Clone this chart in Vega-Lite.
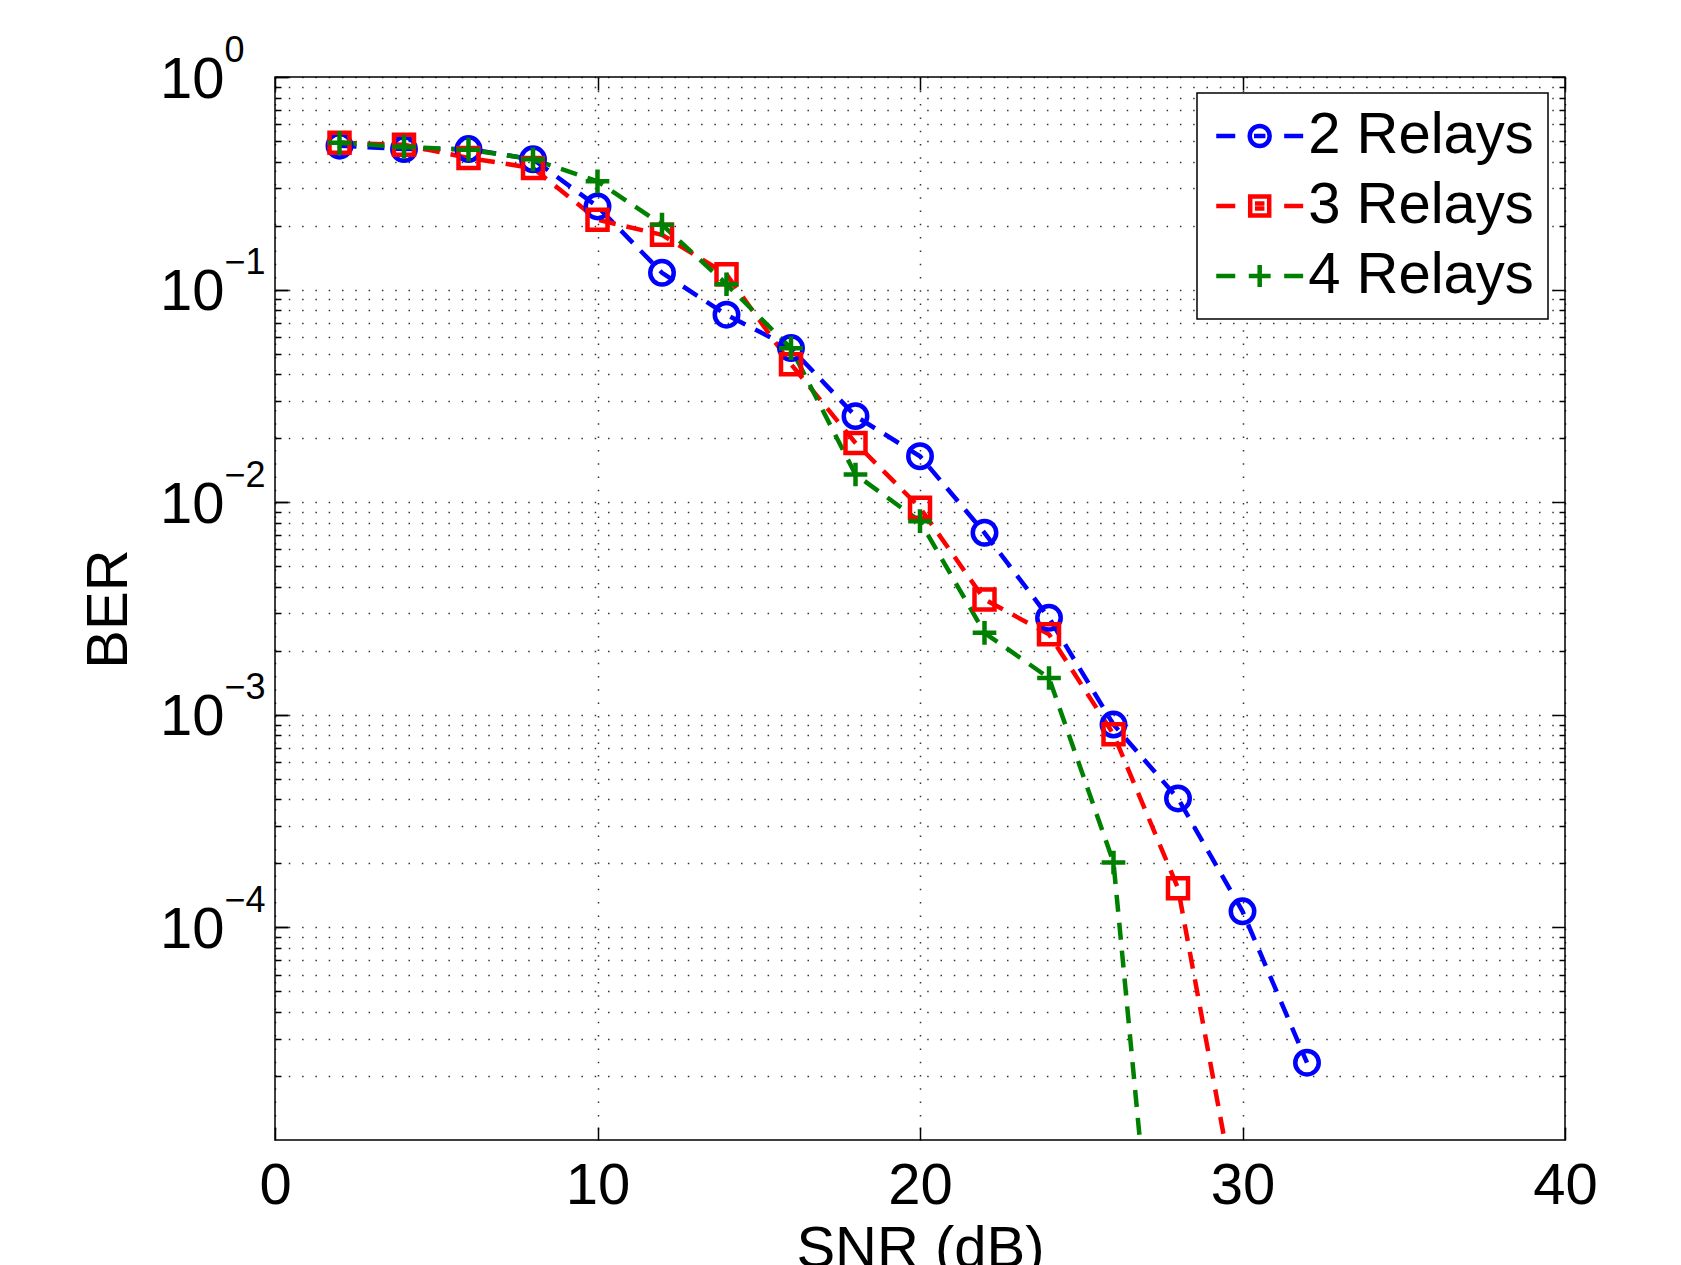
{
  "$schema": "https://vega.github.io/schema/vega-lite/v6.json",
  "width": 1290,
  "height": 1063,
  "autosize": {"type": "none"},
  "padding": {"left": 275, "top": 77, "right": 116, "bottom": 125},
  "background": "white",
  "config": {
    "view": {"stroke": "#000", "strokeWidth": 1.5},
    "font": "Liberation Sans",
    "axis": {
      "domain": false,
      "tickColor": "#000",
      "tickWidth": 1.5,
      "labelColor": "#000",
      "labelFont": "Liberation Sans",
      "labelFontSize": 58,
      "labelOverlap": false,
      "labelFlush": false,
      "labelBound": false,
      "labelLimit": 400,
      "titleFont": "Liberation Sans",
      "titleFontSize": 58,
      "titleFontWeight": "normal",
      "titleColor": "#000",
      "gridColor": "#000",
      "gridWidth": 1.5,
      "gridDash": [1.5, 11.8],
      "gridOpacity": 0.8
    }
  },
  "data": {
    "values": [
      {"series": "2 Relays", "snr": 2, "ber": 0.475},
      {"series": "2 Relays", "snr": 4, "ber": 0.458},
      {"series": "2 Relays", "snr": 6, "ber": 0.458},
      {"series": "2 Relays", "snr": 8, "ber": 0.41},
      {"series": "2 Relays", "snr": 10, "ber": 0.246},
      {"series": "2 Relays", "snr": 12, "ber": 0.12},
      {"series": "2 Relays", "snr": 14, "ber": 0.0762},
      {"series": "2 Relays", "snr": 16, "ber": 0.0531},
      {"series": "2 Relays", "snr": 18, "ber": 0.0254},
      {"series": "2 Relays", "snr": 20, "ber": 0.01645},
      {"series": "2 Relays", "snr": 22, "ber": 0.00718},
      {"series": "2 Relays", "snr": 24, "ber": 0.00286},
      {"series": "2 Relays", "snr": 26, "ber": 0.0009},
      {"series": "2 Relays", "snr": 28, "ber": 0.000404},
      {"series": "2 Relays", "snr": 30, "ber": 0.000119},
      {"series": "2 Relays", "snr": 32, "ber": 0.0000231},
      {"series": "3 Relays", "snr": 2, "ber": 0.49},
      {"series": "3 Relays", "snr": 4, "ber": 0.48},
      {"series": "3 Relays", "snr": 6, "ber": 0.416},
      {"series": "3 Relays", "snr": 8, "ber": 0.373},
      {"series": "3 Relays", "snr": 10, "ber": 0.213},
      {"series": "3 Relays", "snr": 12, "ber": 0.181},
      {"series": "3 Relays", "snr": 14, "ber": 0.118},
      {"series": "3 Relays", "snr": 16, "ber": 0.0446},
      {"series": "3 Relays", "snr": 18, "ber": 0.019},
      {"series": "3 Relays", "snr": 20, "ber": 0.00941},
      {"series": "3 Relays", "snr": 22, "ber": 0.00349},
      {"series": "3 Relays", "snr": 24, "ber": 0.00239},
      {"series": "3 Relays", "snr": 26, "ber": 0.00081},
      {"series": "3 Relays", "snr": 28, "ber": 0.000153},
      {"series": "3 Relays", "snr": 30, "ber": 0.0000035},
      {"series": "4 Relays", "snr": 2, "ber": 0.49},
      {"series": "4 Relays", "snr": 4, "ber": 0.469},
      {"series": "4 Relays", "snr": 6, "ber": 0.455},
      {"series": "4 Relays", "snr": 8, "ber": 0.41},
      {"series": "4 Relays", "snr": 10, "ber": 0.323},
      {"series": "4 Relays", "snr": 12, "ber": 0.202},
      {"series": "4 Relays", "snr": 14, "ber": 0.106},
      {"series": "4 Relays", "snr": 16, "ber": 0.053},
      {"series": "4 Relays", "snr": 18, "ber": 0.0135},
      {"series": "4 Relays", "snr": 20, "ber": 0.00814},
      {"series": "4 Relays", "snr": 22, "ber": 0.00243},
      {"series": "4 Relays", "snr": 24, "ber": 0.00149},
      {"series": "4 Relays", "snr": 26, "ber": 0.000202},
      {"series": "4 Relays", "snr": 28, "ber": 0.00000013}
    ]
  },
  "layer": [
    {
      "mark": {"type": "line", "strokeWidth": 4.5, "strokeDash": [17, 11], "clip": true},
      "encoding": {
        "x": {
          "field": "snr", "type": "quantitative",
          "scale": {"domain": [0, 40], "nice": false, "zero": false},
          "axis": {
            "orient": "bottom", "values": [0, 10, 20, 30, 40],
            "tickSize": -13, "labelPadding": 30,
            "grid": true,
            "title": "SNR (dB)", "titleX": 645, "titleY": 126,
            "titleAlign": "center", "titleBaseline": "alphabetic", "titleAngle": 0
          }
        },
        "y": {
          "field": "ber", "type": "quantitative",
          "scale": {"type": "log", "domain": [0.00001, 1], "nice": false},
          "axis": {
            "orient": "left", "values": [1, 0.1, 0.01, 0.001, 0.0001],
            "labelExpr": "'10'",
            "labelAlign": "right", "labelBaseline": "middle", "labelOffset": 3,
            "tickSize": -13, "labelPadding": 64,
            "grid": true,
            "title": "BER", "titleX": -166, "titleY": 531.5,
            "titleAngle": -90, "titleAlign": "center", "titleBaseline": "middle"
          }
        },
        "color": {
          "field": "series", "type": "nominal",
          "scale": {"domain": ["2 Relays", "3 Relays", "4 Relays"], "range": ["#0000ff", "#ff0000", "#008000"]},
          "legend": {
            "orient": "none", "legendX": 922, "legendY": 16,
            "title": null,
            "labelFontSize": 58, "labelFont": "Liberation Sans", "labelColor": "#000", "labelLimit": 400,
            "symbolSize": 2256, "symbolStrokeWidth": 4.5, "symbolDash": [],
            "symbolOffset": 19.7,
            "padding": 14, "rowPadding": 12, "labelOffset": 19.5,
            "strokeColor": "#000", "fillColor": "#fff", "cornerRadius": 0,
            "encode": {
              "symbols": {
                "update": {
                  "shape": {"signal": "datum.value == '2 Relays' ? 'M-1.83,0H-1.03M1.03,0H1.83M-0.42,0A0.42,0.42,0,1,1,0.42,0A0.42,0.42,0,1,1,-0.42,0M-0.24,0H0.24' : datum.value == '3 Relays' ? 'M-1.83,0H-1.03M1.03,0H1.83M-0.4,-0.4H0.4V0.4H-0.4ZM-0.2,-0.11H0.2M-0.2,0.11H0.2' : 'M-1.83,0H-1.03M1.03,0H1.83M-0.46,0H0.46M0,-0.46V0.46'"},
                  "fill": {"value": "transparent"},
                  "strokeDash": {"value": []},
                  "strokeWidth": {"value": 4.5}
                }
              },
              "legend": {"update": {"strokeWidth": {"value": 1.5}}}
            }
          }
        },
        "detail": {"field": "series"}
      }
    },
    {
      "transform": [{"filter": "datum.series == '2 Relays'"}],
      "mark": {"type": "point", "shape": "circle", "size": 550, "filled": false, "stroke": "#0000ff", "strokeWidth": 4.5, "clip": true, "opacity": 1},
      "encoding": {
        "x": {
          "field": "snr", "type": "quantitative",
          "scale": {"domain": [0, 40], "nice": false, "zero": false},
          "axis": {"orient": "top", "values": [0, 10, 20, 30, 40], "tickSize": -13, "labels": false, "grid": false, "title": null}
        },
        "y": {
          "field": "ber", "type": "quantitative",
          "scale": {"type": "log", "domain": [0.00001, 1], "nice": false},
          "axis": {"orient": "right", "values": [1, 0.1, 0.01, 0.001, 0.0001], "tickSize": -13, "labels": false, "grid": false, "title": null}
        }
      }
    },
    {
      "transform": [{"filter": "datum.series == '3 Relays'"}],
      "mark": {"type": "point", "shape": "square", "size": 400, "filled": false, "stroke": "#ff0000", "strokeWidth": 4.5, "clip": true, "opacity": 1},
      "encoding": {
        "x": {"field": "snr", "type": "quantitative", "scale": {"domain": [0, 40], "nice": false, "zero": false}, "axis": null},
        "y": {
          "field": "ber", "type": "quantitative",
          "scale": {"type": "log", "domain": [0.00001, 1], "nice": false},
          "axis": {
            "orient": "left", "values": [1, 0.1, 0.01, 0.001, 0.0001],
            "labelExpr": "datum.value > 0.5 ? '0' : datum.value > 0.05 ? '−1' : datum.value > 0.005 ? '−2' : datum.value > 0.0005 ? '−3' : '−4'",
            "labelAlign": "left", "labelBaseline": "middle", "labelOffset": -27, "labelFontSize": 36,
            "tickSize": -13, "labelPadding": 64, "grid": false, "title": null
          }
        }
      }
    },
    {
      "transform": [{"filter": "datum.series == '4 Relays'"}],
      "mark": {"type": "point", "shape": "M-1,0H1M0,-1V1", "size": 560, "filled": false, "stroke": "#008000", "strokeWidth": 4.5, "clip": true, "opacity": 1},
      "encoding": {
        "x": {"field": "snr", "type": "quantitative", "scale": {"domain": [0, 40], "nice": false, "zero": false}, "axis": null},
        "y": {"field": "ber", "type": "quantitative", "scale": {"type": "log", "domain": [0.00001, 1], "nice": false}, "axis": null}
      }
    },
    {
      "mark": {"type": "point", "opacity": 0},
      "encoding": {
        "x": {"field": "snr", "type": "quantitative", "scale": {"domain": [0, 40], "nice": false, "zero": false}, "axis": null},
        "y": {
          "field": "ber", "type": "quantitative",
          "scale": {"type": "log", "domain": [0.00001, 1], "nice": false},
          "axis": {
            "orient": "left",
            "values": [0.00002, 0.00003, 0.00004, 0.00005, 0.00006, 0.00007, 0.00008, 0.00009, 0.0002, 0.0003, 0.0004, 0.0005, 0.0006, 0.0007, 0.0008, 0.0009, 0.002, 0.003, 0.004, 0.005, 0.006, 0.007, 0.008, 0.009, 0.02, 0.03, 0.04, 0.05, 0.06, 0.07, 0.08, 0.09, 0.2, 0.3, 0.4, 0.5, 0.6, 0.7, 0.8, 0.9],
            "tickSize": -6, "labels": false, "grid": true, "title": null
          }
        }
      }
    },
    {
      "mark": {"type": "point", "opacity": 0},
      "encoding": {
        "x": {"field": "snr", "type": "quantitative", "scale": {"domain": [0, 40], "nice": false, "zero": false}, "axis": null},
        "y": {
          "field": "ber", "type": "quantitative",
          "scale": {"type": "log", "domain": [0.00001, 1], "nice": false},
          "axis": {
            "orient": "right",
            "values": [0.00002, 0.00003, 0.00004, 0.00005, 0.00006, 0.00007, 0.00008, 0.00009, 0.0002, 0.0003, 0.0004, 0.0005, 0.0006, 0.0007, 0.0008, 0.0009, 0.002, 0.003, 0.004, 0.005, 0.006, 0.007, 0.008, 0.009, 0.02, 0.03, 0.04, 0.05, 0.06, 0.07, 0.08, 0.09, 0.2, 0.3, 0.4, 0.5, 0.6, 0.7, 0.8, 0.9],
            "tickSize": -6, "labels": false, "grid": false, "title": null
          }
        }
      }
    }
  ],
  "resolve": {"axis": {"x": "independent", "y": "independent"}}
}
